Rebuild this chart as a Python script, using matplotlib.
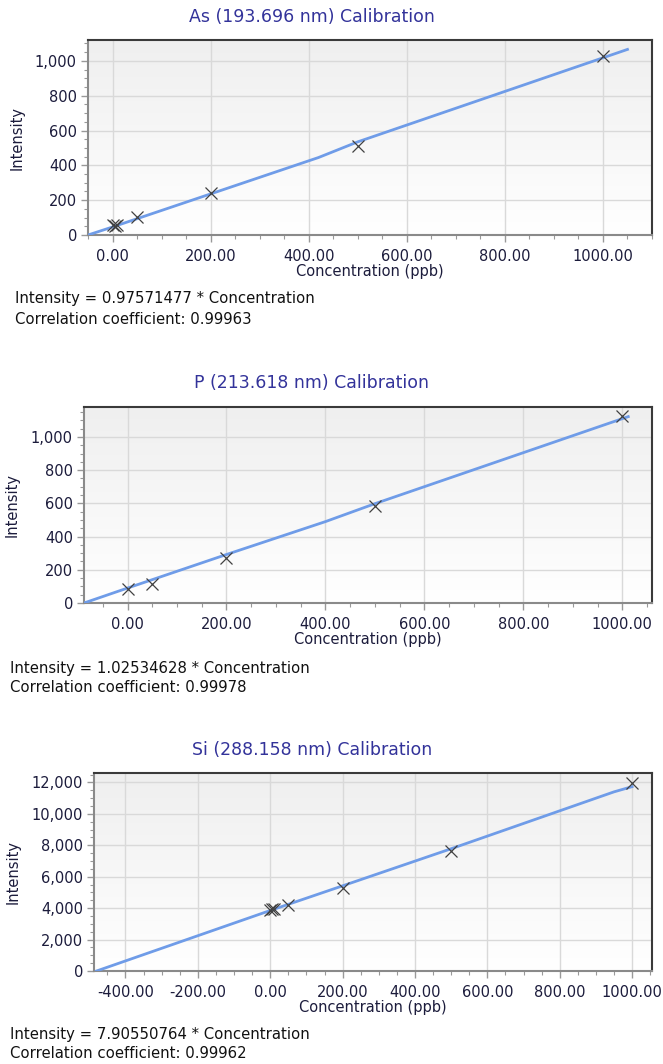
import matplotlib
matplotlib.use("Agg")
import matplotlib.pyplot as plt
import numpy as np
from matplotlib.ticker import MultipleLocator, FuncFormatter
from matplotlib.colors import LinearSegmentedColormap

# ---- data ----
titles = ["As (193.696 nm) Calibration", "P (213.618 nm) Calibration", "Si (288.158 nm) Calibration"]
equations = ["Intensity = 0.97571477 * Concentration",
             "Intensity = 1.02534628 * Concentration",
             "Intensity = 7.90550764 * Concentration"]
correlations = ["Correlation coefficient: 0.99963",
                "Correlation coefficient: 0.99978",
                "Correlation coefficient: 0.99962"]

as_conc = [0, 5, 10, 50, 200, 500, 1000]
as_int = [55, 52, 57, 105, 243, 513, 1028]
as_fit_x = [-50, 0, 200, 420, 500, 1050]
as_fit_y = [0, 46, 236, 445, 535, 1066]

p_conc = [0, 50, 200, 500, 1000]
p_int = [86, 114, 270, 586, 1124]
p_fit_x = [-88, 0, 200, 400, 500, 1012]
p_fit_y = [0, 90, 292, 490, 598, 1122]

si_conc = [0, 5, 10, 50, 200, 500, 1000]
si_int = [3880, 3950, 3930, 4200, 5300, 7620, 11950]
si_fit_x = [-480, 0, 200, 500, 950, 1000]
si_fit_y = [0, 3850, 5420, 7780, 11400, 11730]

panels = [
    dict(x=as_conc, y=as_int, fx=as_fit_x, fy=as_fit_y, xlim=(-50, 1100), ylim=(0, 1120),
         ymaj=200, ymin=50, xticks=[0, 200, 400, 600, 800, 1000]),
    dict(x=p_conc, y=p_int, fx=p_fit_x, fy=p_fit_y, xlim=(-88, 1060), ylim=(0, 1180),
         ymaj=200, ymin=50, xticks=[0, 200, 400, 600, 800, 1000]),
    dict(x=si_conc, y=si_int, fx=si_fit_x, fy=si_fit_y, xlim=(-487, 1055), ylim=(0, 12600),
         ymaj=2000, ymin=500, xticks=[-400, -200, 0, 200, 400, 600, 800, 1000]),
]

W, H = 663, 1064
plt.rcParams['font.family'] = ['DejaVu Sans']
fig = plt.figure(figsize=(W / 100, H / 100), dpi=100)

# axes boxes in pixels: left, top, right, bottom
boxes = [(88, 40, 652, 235), (84, 407, 652, 603), (94, 773, 652, 971)]
title_y = [17, 383, 750]
eq_pos = [(15, 298, 319), (10, 668, 688), (10, 1035, 1054)]
ylabel_x = [25, 20, 21]

tick_color = "#1c1c3c"
grad = np.linspace(0, 1, 256).reshape(-1, 1)
bg_cmap = LinearSegmentedColormap.from_list("bg", ["#ffffff", "#efefef"])

for i, (pn, box) in enumerate(zip(panels, boxes)):
    l, t, r, b = box
    ax = fig.add_axes([l / W, 1 - b / H, (r - l) / W, (b - t) / H])
    ax.imshow(grad, extent=[0, 1, 0, 1], transform=ax.transAxes, aspect='auto',
              cmap=bg_cmap, origin='lower', zorder=0)
    ax.set_xlim(*pn["xlim"])
    ax.set_ylim(*pn["ylim"])
    ax.set_xticks(pn["xticks"])
    ax.xaxis.set_minor_locator(MultipleLocator(50))
    ax.yaxis.set_major_locator(MultipleLocator(pn["ymaj"]))
    ax.yaxis.set_minor_locator(MultipleLocator(pn["ymin"]))
    ax.xaxis.set_major_formatter(FuncFormatter(lambda v, p: f"{v:.2f}"))
    ax.yaxis.set_major_formatter(FuncFormatter(lambda v, p: f"{v:,.0f}"))
    ax.grid(True, which='major', color='#d9d9d9', linewidth=1.0, zorder=1)
    ax.set_axisbelow(True)
    ax.tick_params(axis='both', which='major', length=5, width=1, color='#999999',
                   labelsize=10.5, labelcolor=tick_color)
    ax.tick_params(axis='x', which='major', pad=5)
    ax.tick_params(axis='y', which='major', pad=3)
    ax.tick_params(axis='both', which='minor', length=3, width=0.8, color='#999999')
    for s in ax.spines.values():
        s.set_color('#3a3a3a')
        s.set_linewidth(1.5)
    ax.spines['bottom'].set_color('#8a8a8a')
    ax.spines['left'].set_color('#8a8a8a')
    ax.plot(pn["fx"], pn["fy"], color='#6f9ce8', linewidth=2.0, zorder=3, clip_on=True)
    ax.plot(pn["x"], pn["y"], linestyle='none', marker='x', markersize=8,
            markeredgewidth=0.9, color='#404040', zorder=4)
    ax.set_xlabel("Concentration (ppb)", fontsize=10.5, color=tick_color, labelpad=0)
    ax.set_ylabel("Intensity", fontsize=10.5, color=tick_color)
    ax.yaxis.set_label_coords((ylabel_x[i] - l) / (r - l), 0.5)

    fig.text(312 / W, 1 - title_y[i] / H, titles[i], ha='center', va='center',
             fontsize=12.5, color='#33339a')
    ex, ey1, ey2 = eq_pos[i]
    fig.text(ex / W, 1 - ey1 / H, equations[i], ha='left', va='center',
             fontsize=10.7, color='#111111')
    fig.text(ex / W, 1 - ey2 / H, correlations[i], ha='left', va='center',
             fontsize=10.7, color='#111111')

fig.savefig("out.png", dpi=100)
